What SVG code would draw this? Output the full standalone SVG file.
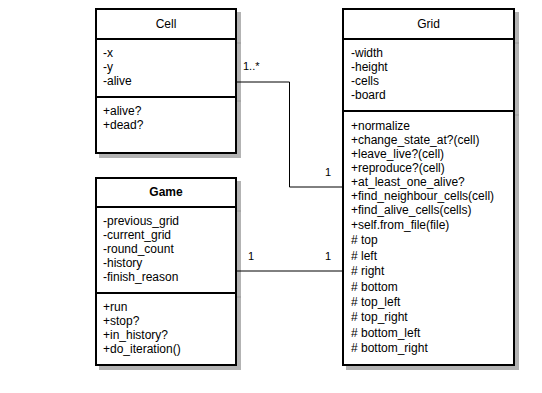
<svg xmlns="http://www.w3.org/2000/svg" width="542" height="393" viewBox="0 0 542 393">
  <style>
    text { font-family: "Liberation Sans", Arial, sans-serif; font-size: 12px; fill: #000; }
    .title { text-anchor: middle; }
    .bold { font-weight: bold; }
    .mult { font-size: 11px; }
    .box { fill: #fff; stroke: #000; stroke-width: 2; }
    .sep { stroke: #000; stroke-width: 2; }
    .shadow { fill: #b3b3b3; stroke: #b3b3b3; stroke-width: 2; }
    .shadow-sep { stroke: #999; stroke-width: 1; }
    .edge { fill: none; stroke: #000; stroke-width: 1; }
  </style>

  <!-- drop shadows behind the class boxes -->
  <g id="shadows">
    <rect class="shadow" x="100" y="13" width="140" height="144"/>
    <line class="shadow-sep" x1="100" y1="43" x2="241" y2="43"/>
    <line class="shadow-sep" x1="100" y1="101" x2="241" y2="101"/>

    <rect class="shadow" x="100" y="182" width="140" height="187"/>
    <line class="shadow-sep" x1="100" y1="211" x2="241" y2="211"/>
    <line class="shadow-sep" x1="100" y1="297" x2="241" y2="297"/>

    <rect class="shadow" x="347" y="13" width="171" height="356"/>
    <line class="shadow-sep" x1="347" y1="43" x2="519" y2="43"/>
    <line class="shadow-sep" x1="347" y1="115" x2="519" y2="115"/>
  </g>

  <!-- associations -->
  <g id="connectors">
    <polyline class="edge" points="237,82 289.5,82 289.5,187 342,187"/>
    <line class="edge" x1="237" y1="271" x2="342" y2="271"/>
    <text class="mult" x="243" y="70">1..*</text>
    <text class="mult" x="325" y="176">1</text>
    <text class="mult" x="248" y="260">1</text>
    <text class="mult" x="325" y="260">1</text>
  </g>

  <g id="cell">
    <rect class="box" x="96" y="9" width="140" height="144"/>
    <line class="sep" x1="96" y1="39" x2="236" y2="39"/>
    <line class="sep" x1="96" y1="97" x2="236" y2="97"/>
    <text class="title" x="166" y="28">Cell</text>
    <text x="103" y="57">-x</text>
    <text x="103" y="71">-y</text>
    <text x="103" y="85">-alive</text>
    <text x="103" y="115">+alive?</text>
    <text x="103" y="129">+dead?</text>
  </g>

  <g id="game">
    <rect class="box" x="96" y="178" width="140" height="187"/>
    <line class="sep" x1="96" y1="207" x2="236" y2="207"/>
    <line class="sep" x1="96" y1="293" x2="236" y2="293"/>
    <text class="title bold" x="166" y="196">Game</text>
    <text x="103" y="225">-previous_grid</text>
    <text x="103" y="239">-current_grid</text>
    <text x="103" y="253">-round_count</text>
    <text x="103" y="267">-history</text>
    <text x="103" y="281">-finish_reason</text>
    <text x="103" y="311">+run</text>
    <text x="103" y="325">+stop?</text>
    <text x="103" y="339">+in_history?</text>
    <text x="103" y="353">+do_iteration()</text>
  </g>

  <g id="grid">
    <rect class="box" x="343" y="9" width="171" height="356"/>
    <line class="sep" x1="343" y1="39" x2="514" y2="39"/>
    <line class="sep" x1="343" y1="111" x2="514" y2="111"/>
    <text class="title" x="428.5" y="28">Grid</text>
    <text x="351" y="57">-width</text>
    <text x="351" y="71">-height</text>
    <text x="351" y="85">-cells</text>
    <text x="351" y="99">-board</text>
    <text x="351" y="130">+normalize</text>
    <text x="351" y="144">+change_state_at?(cell)</text>
    <text x="351" y="158">+leave_live?(cell)</text>
    <text x="351" y="172">+reproduce?(cell)</text>
    <text x="351" y="186">+at_least_one_alive?</text>
    <text x="351" y="200">+find_neighbour_cells(cell)</text>
    <text x="351" y="214">+find_alive_cells(cells)</text>
    <text x="351" y="229"><tspan>+self.from_file(file)</tspan></text>
    <text x="351" y="244"># top</text>
    <text x="351" y="260"># left</text>
    <text x="351" y="275"># right</text>
    <text x="351" y="291"># bottom</text>
    <text x="351" y="306"># top_left</text>
    <text x="351" y="321"># top_right</text>
    <text x="351" y="337"># bottom_left</text>
    <text x="351" y="352"># bottom_right</text>
  </g>
</svg>
